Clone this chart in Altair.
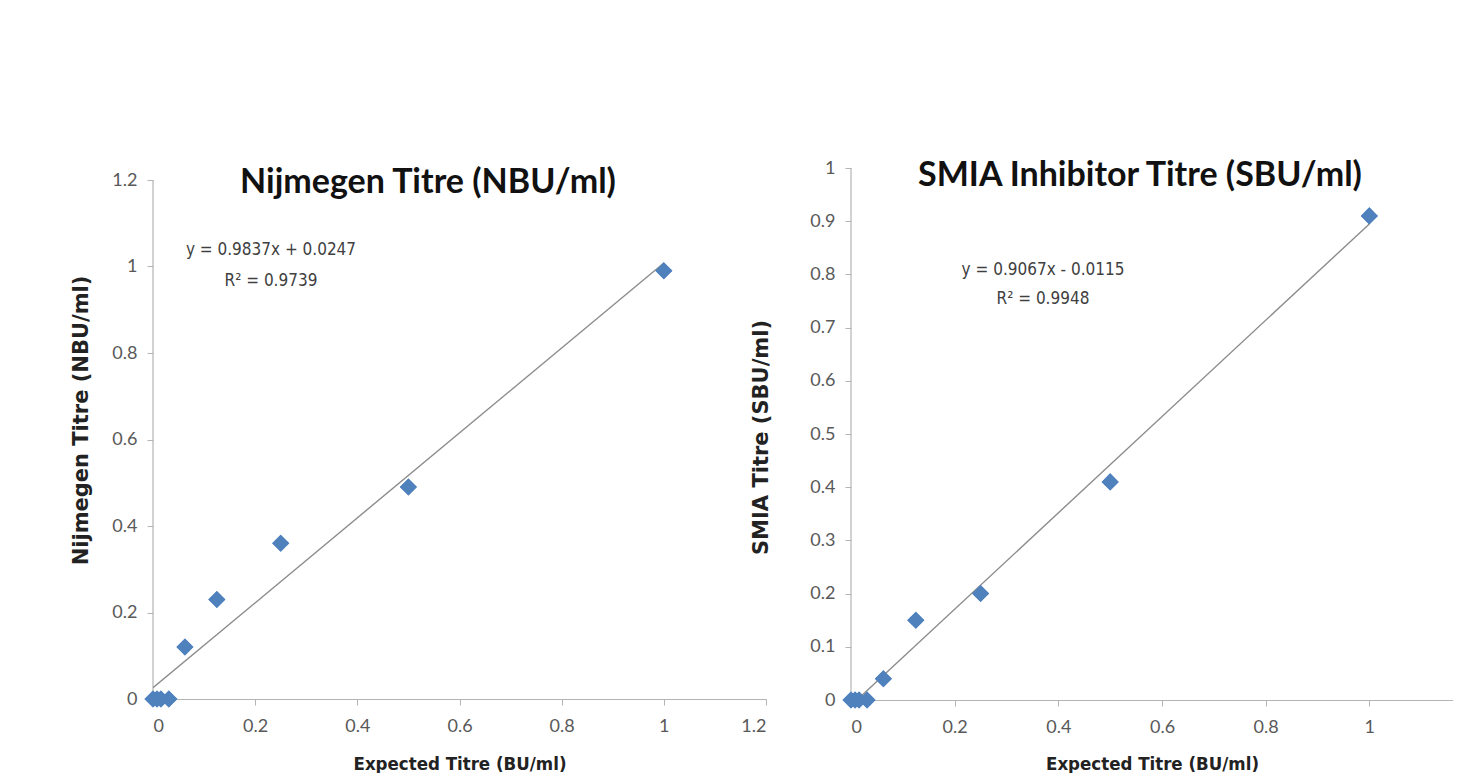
import altair as alt
import pandas as pd

# ---- data ----
expected = [0, 0.0078, 0.0156, 0.031, 0.0625, 0.125, 0.25, 0.5, 1.0]
nijmegen = [0, 0, 0, 0, 0.12, 0.23, 0.36, 0.49, 0.99]
smia = [0, 0, 0, 0, 0.04, 0.15, 0.20, 0.41, 0.91]

left_ticks_x = [0, 0.2, 0.4, 0.6, 0.8, 1.0, 1.2]
left_ticks_y = [0, 0.2, 0.4, 0.6, 0.8, 1.0, 1.2]
right_ticks_x = [0, 0.2, 0.4, 0.6, 0.8, 1.0]
right_ticks_y = [0, 0.1, 0.2, 0.3, 0.4, 0.5, 0.6, 0.7, 0.8, 0.9, 1.0]
RIGHT_W = 602
left_xmax = 1.2
right_xmax = 1.2 * RIGHT_W / 622   # right panel is cut by the picture edge
left_ymax = 1.2
right_ymax = 1.0

left_title = "Nijmegen Titre (NBU/ml)"
right_title = "SMIA Inhibitor Titre (SBU/ml)"
left_eq = ["y = 0.9837x + 0.0247", "R² = 0.9739"]
right_eq = ["y = 0.9067x - 0.0115", "R² = 0.9948"]
x_title = "Expected Titre (BU/ml)"
left_ytitle = "Nijmegen Titre (NBU/ml)"
right_ytitle = "SMIA Titre (SBU/ml)"

MARK = "#4F81BD"
LINE = "#8c8c8c"
AXIS = "#b4b4b4"
LABEL = "#595959"
FONT = "Lato"
NARROW = "'Liberation Sans Narrow', 'DejaVu Sans Condensed', Lato"
YFONT = "DejaVu Sans"


def panel(yvals, xticks, yticks, xmax, ymax, ytop_extra, width, height, title,
          eq, ytitle, title_pos, eq_pos, xtitle_pad, ytitle_pad, ytitle_y):
    df = pd.DataFrame({"x": expected, "y": yvals})
    # extend the scale a little above the top tick when the plot must start lower
    ydom_top = ymax * (height / (height - ytop_extra))
    xenc = alt.X("x:Q", scale=alt.Scale(domain=[0, xmax], nice=False),
                 axis=alt.Axis(values=xticks, format="~g", title=x_title,
                               titlePadding=xtitle_pad, titleFont=NARROW,
                               titleFontSize=18.5, titleFontWeight="bold",
                               titleColor="#222222", labelPadding=12))
    yenc = alt.Y("y:Q", scale=alt.Scale(domain=[0, ydom_top], nice=False),
                 axis=alt.Axis(values=yticks, format="~g", title=ytitle,
                               titlePadding=ytitle_pad, titleFont=YFONT,
                               titleFontSize=21, titleFontWeight="bold",
                               titleColor="#222222", labelPadding=10,
                               titleY=ytitle_y, domain=False))
    yline = alt.Chart(pd.DataFrame({"x": [0], "y": [0], "y2": [ymax]})).mark_rule(
        color=AXIS, strokeWidth=1.2).encode(x="x:Q", y="y:Q", y2="y2:Q")
    pts = alt.Chart(df).mark_point(shape="diamond", filled=True, size=290,
                                   color=MARK, opacity=1).encode(x=xenc, y=yenc)
    fit = alt.Chart(df).transform_regression("x", "y").mark_line(
        color=LINE, strokeWidth=1.4, clip=True).encode(x="x:Q", y="y:Q")
    ttl = alt.Chart(pd.DataFrame({"t": [title]})).mark_text(
        font=FONT, fontSize=34, fontWeight="bold", color="#111111",
        align="center", baseline="middle").encode(
        text="t:N", x=alt.value(title_pos[0]), y=alt.value(title_pos[1]))
    e1 = alt.Chart(pd.DataFrame({"t": [eq[0]]})).mark_text(
        font=NARROW, fontSize=17, color="#404040", align="center",
        baseline="middle").encode(text="t:N", x=alt.value(eq_pos[0]),
                                  y=alt.value(eq_pos[1]))
    e2 = alt.Chart(pd.DataFrame({"t": [eq[1]]})).mark_text(
        font=NARROW, fontSize=17, color="#404040", align="center",
        baseline="middle").encode(text="t:N", x=alt.value(eq_pos[0]),
                                  y=alt.value(eq_pos[2]))
    return alt.layer(pts, yline, fit, pts, ttl, e1, e2).properties(
        width=width, height=height)


left = panel(nijmegen, left_ticks_x, left_ticks_y, left_xmax, left_ymax, 12,
             613, 531, left_title, left_eq, left_ytitle, (275, 15),
             (118, 82, 113), 19, 20, 252)
right = panel(smia, right_ticks_x, right_ticks_y, right_xmax, right_ymax, 0,
              RIGHT_W, 532, right_title, right_eq, right_ytitle, (289, 8),
              (192, 102, 131), 18, 38, 269)

chart = alt.hconcat(left, right, spacing=85, bounds="flush").configure_view(
    stroke=None).configure_axis(
    grid=False, domainColor=AXIS, tickColor=AXIS, tickSize=6, domainWidth=1.2,
    labelFont=FONT, labelFontSize=18, labelColor=LABEL
).properties(padding={"left": 62, "top": 151, "right": 0, "bottom": 0})

chart.save("out.html", embed_options={"renderer": "svg", "actions": False})
